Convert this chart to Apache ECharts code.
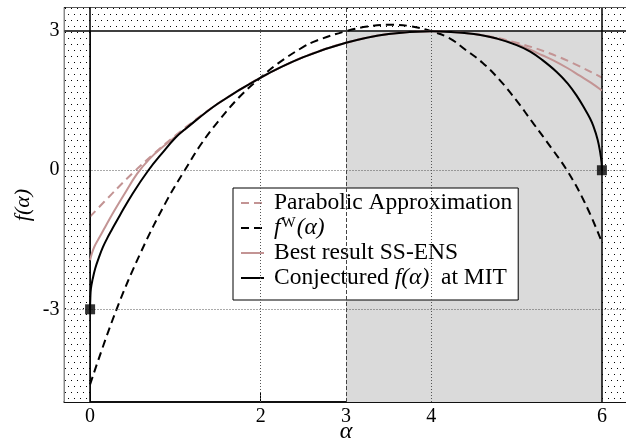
<!DOCTYPE html>
<html><head><meta charset="utf-8">
<script src="https://cdn.jsdelivr.net/npm/echarts@6/dist/echarts.min.js"></script>
<style>html,body{margin:0;padding:0;background:#fff}#c{width:626px;height:441px}</style>
</head><body><div id="c"></div>
<script>
// ---- data ----
const xTicks = [0, 2, 3, 4, 6];
const yTicks = [-3, 0, 3];

// Parabolic Approximation (rosy dashed)
const alphaPA = [0,0.25,0.5,0.75,1,1.25,1.5,1.75,2,2.5,3,3.5,4,4.5,5,5.5,6];
const fPA     = [-1.0,-0.52,-0.06,0.36,0.75,1.11,1.44,1.73,2.0,2.44,2.75,2.94,3.0,2.94,2.75,2.44,2.0];

// f^W(alpha) (black dashed)
const alphaW = [0,0.3,0.6,0.9,1.11,1.3,1.5,1.75,2,2.2,2.5,2.66,3,3.25,3.5,3.75,4,4.22,4.4,4.6,4.8,5,5.2,5.4,5.59,5.8,6];
const fW     = [-4.62,-3.05,-1.75,-0.65,0,0.56,1.05,1.58,2.0,2.3,2.66,2.8,3.0,3.1,3.14,3.11,3.0,2.84,2.6,2.32,1.95,1.5,1.0,0.5,0,-0.7,-1.55];

// Best result SS-ENS (rosy solid)
const alphaSS = [0,0.02,0.05,0.1,0.16,0.25,0.39,0.55,0.7,0.85,1.0,1.11,1.5,2,2.5,3,3.5,4,4.5,4.77,5.0,5.16,5.3,5.43,5.6,5.74,5.87,6];
const fSS     = [-1.94,-1.8,-1.65,-1.48,-1.28,-0.98,-0.55,-0.08,0.25,0.5,0.72,0.88,1.44,2.0,2.44,2.75,2.94,3.0,2.94,2.84,2.72,2.6,2.48,2.37,2.2,2.04,1.89,1.72];

// Conjectured f(alpha) at MIT (black solid)
const alphaMIT = [0,0.003,0.01,0.03,0.06,0.1,0.15,0.2,0.25,0.35,0.5,0.684,0.85,1.0,1.11,1.5,2,2.5,3,3.5,4,4.5,4.77,5.0,5.16,5.3,5.47,5.6,5.7,5.8,5.86,5.9,5.95,5.98,5.995,6];
const fMIT     = [-3,-2.75,-2.55,-2.35,-2.12,-1.9,-1.66,-1.47,-1.3,-0.97,-0.5,0,0.38,0.7,0.88,1.44,2.0,2.44,2.75,2.94,3.0,2.94,2.84,2.7,2.56,2.38,2.12,1.87,1.62,1.32,1.12,0.95,0.66,0.38,0.18,0];

// end-point markers
const markerAlpha = [0, 6];
const markerF = [-3, 0];

// regions
const xRange = [-0.3, 6.3];
const yRange = [-5, 3.5];
const greyBand = [3, 6];      // alpha range, below f=3
const fMaxLine = 3;
const alphaBounds = [0, 6];
const dottedX = [2, 4];
const dashedX = [3];
const dottedY = [0, -3];

// ---- build ----
const pair = (a, b) => a.map((v, i) => [v, b[i]]);
function makePattern() {
  const c = document.createElement('canvas');
  c.width = 6; c.height = 12;
  const g = c.getContext('2d');
  g.fillStyle = '#fff'; g.fillRect(0, 0, 6, 12);
  g.fillStyle = '#000';
  g.fillRect(2, 2, 1, 1); g.fillRect(5, 8, 1, 1);
  return c;
}
const hatch = { image: makePattern(), repeat: 'repeat' };
const FONT = 'Liberation Serif';
const ROSY = '#c39494';
const FS = 23.5;

const chart = echarts.init(document.getElementById('c'));
chart.setOption({
  animation: false,
  backgroundColor: '#fff',
  grid: { left: 64.5, top: 8, width: 563, height: 394, outerBoundsMode: 'none', containLabel: false,
          show: true, borderColor: '#222', borderWidth: 1.5 },
  xAxis: [{
    type: 'value', min: xRange[0], max: xRange[1],
    axisLine: { show: true, onZero: false, lineStyle: { color: '#111', width: 2 } },
    axisTick: { show: true, inside: true, length: 9, customValues: xTicks, lineStyle: { color: '#000', width: 1 } },
    axisLabel: { customValues: xTicks, fontFamily: FONT, fontSize: 20, color: '#000', margin: 5 },
    splitLine: { show: false },
    name: 'α', nameLocation: 'middle', nameGap: 18, nameMoveOverlap: false,
    nameTextStyle: { fontFamily: FONT, fontStyle: 'italic', fontSize: 24, color: '#000' }
  }],
  yAxis: [{
    type: 'value', min: yRange[0], max: yRange[1],
    axisLine: { show: true, onZero: false, lineStyle: { color: '#111', width: 2 } },
    axisTick: { show: true, inside: true, length: 13, customValues: yTicks, lineStyle: { color: '#000', width: 1 } },
    axisLabel: { customValues: yTicks, fontFamily: FONT, fontSize: 20, color: '#000', margin: 5 },
    splitLine: { show: false },
    name: 'f(α)', nameLocation: 'middle', nameGap: 30, nameMoveOverlap: false,
    nameTextStyle: { fontFamily: FONT, fontStyle: 'italic', fontSize: 22, color: '#000' }
  }, {
    type: 'value', min: yRange[0], max: yRange[1], position: 'right',
    axisLine: { show: true, lineStyle: { color: '#111', width: 2 } },
    axisTick: { show: true, inside: true, length: 12, customValues: yTicks, lineStyle: { color: '#000', width: 1 } },
    axisLabel: { show: false }, splitLine: { show: false }
  }],
  legend: {
    orient: 'vertical', left: 233, top: 188,
    data: ['pa', 'fw', 'ss', 'mit'],
    backgroundColor: '#fff', borderColor: '#000', borderWidth: 1,
    padding: [3, 6, 10, 7], itemGap: 1, itemWidth: 23, itemHeight: 14,
    itemStyle: { opacity: 0, color: 'transparent', borderWidth: 0 },
    lineStyle: { opacity: 1 },
    textStyle: {
      fontFamily: FONT, fontSize: FS, color: '#000', lineHeight: 24,
      rich: {
        n: { fontFamily: FONT, fontSize: FS, color: '#000', padding: [0, 0, 0, 5] },
        m: { fontFamily: FONT, fontSize: FS, color: '#000' },
        i: { fontFamily: FONT, fontSize: FS, fontStyle: 'italic', color: '#000' },
        ip: { fontFamily: FONT, fontSize: FS, fontStyle: 'italic', color: '#000', padding: [0, 0, 0, 5] },
        sup: { fontFamily: FONT, fontSize: 15, color: '#000', verticalAlign: 'top', padding: [0, 1, 8, 1] }
      }
    },
    formatter: function (name) {
      if (name === 'pa') return '{n|Parabolic Approximation}';
      if (name === 'fw') return '{ip|f}{sup|W}{i|(α)}';
      if (name === 'ss') return '{n|Best result SS-ENS}';
      return '{n|Conjectured }{i|f(α)}{m|  at MIT}';
    }
  },
  series: [
    {
      type: 'scatter', data: [], silent: true, z: 1,
      markArea: {
        silent: true,
        data: [
          [{ coord: [greyBand[0], yRange[0]], itemStyle: { color: '#dadada' } }, { coord: [greyBand[1], fMaxLine] }],
          [{ coord: [xRange[0], yRange[0]], itemStyle: { color: hatch } }, { coord: [alphaBounds[0], yRange[1]] }],
          [{ coord: [alphaBounds[1], yRange[0]], itemStyle: { color: hatch } }, { coord: [xRange[1], yRange[1]] }],
          [{ coord: [alphaBounds[0], fMaxLine], itemStyle: { color: hatch } }, { coord: [alphaBounds[1], yRange[1]] }]
        ]
      }
    },
    {
      type: 'scatter', data: [], silent: true, z: 2,
      markLine: {
        silent: true, symbol: 'none', label: { show: false },
        data: [
          ...dottedX.map(v => ({ xAxis: v, lineStyle: { color: '#555', width: 1, type: [1, 2] } })),
          ...dashedX.map(v => ({ xAxis: v, lineStyle: { color: '#444', width: 1, type: [4, 2] } })),
          ...dottedY.map(v => ({ yAxis: v, lineStyle: { color: '#555', width: 1, type: [1, 2] } })),
          ...alphaBounds.map(v => ({ xAxis: v, lineStyle: { color: '#000', width: 1.5, type: 'solid' } })),
          { yAxis: fMaxLine, lineStyle: { color: '#000', width: 1.5, type: 'solid' } }
        ]
      }
    },
    {
      name: 'pa', type: 'line', data: pair(alphaPA, fPA), symbol: 'none', smooth: 0.4, z: 3,
      lineStyle: { color: ROSY, width: 2, type: [8, 5] }, itemStyle: { color: ROSY }
    },
    {
      name: 'fw', type: 'line', data: pair(alphaW, fW), symbol: 'none', smooth: 0.4, z: 4,
      lineStyle: { color: '#000', width: 2, type: [8, 5] }, itemStyle: { color: '#000' }
    },
    {
      name: 'ss', type: 'line', data: pair(alphaSS, fSS), symbol: 'none', smooth: 0.4, z: 5,
      lineStyle: { color: ROSY, width: 2 }, itemStyle: { color: ROSY }
    },
    {
      name: 'mit', type: 'line', data: pair(alphaMIT, fMIT), symbol: 'none', smooth: 0.4, z: 6,
      lineStyle: { color: '#000', width: 2 }, itemStyle: { color: '#000' }
    },
    {
      type: 'scatter', data: pair(markerAlpha, markerF), symbol: 'rect', symbolSize: 10, z: 7,
      itemStyle: { color: '#000' }, silent: true
    }
  ]
});
</script>
</body></html>
